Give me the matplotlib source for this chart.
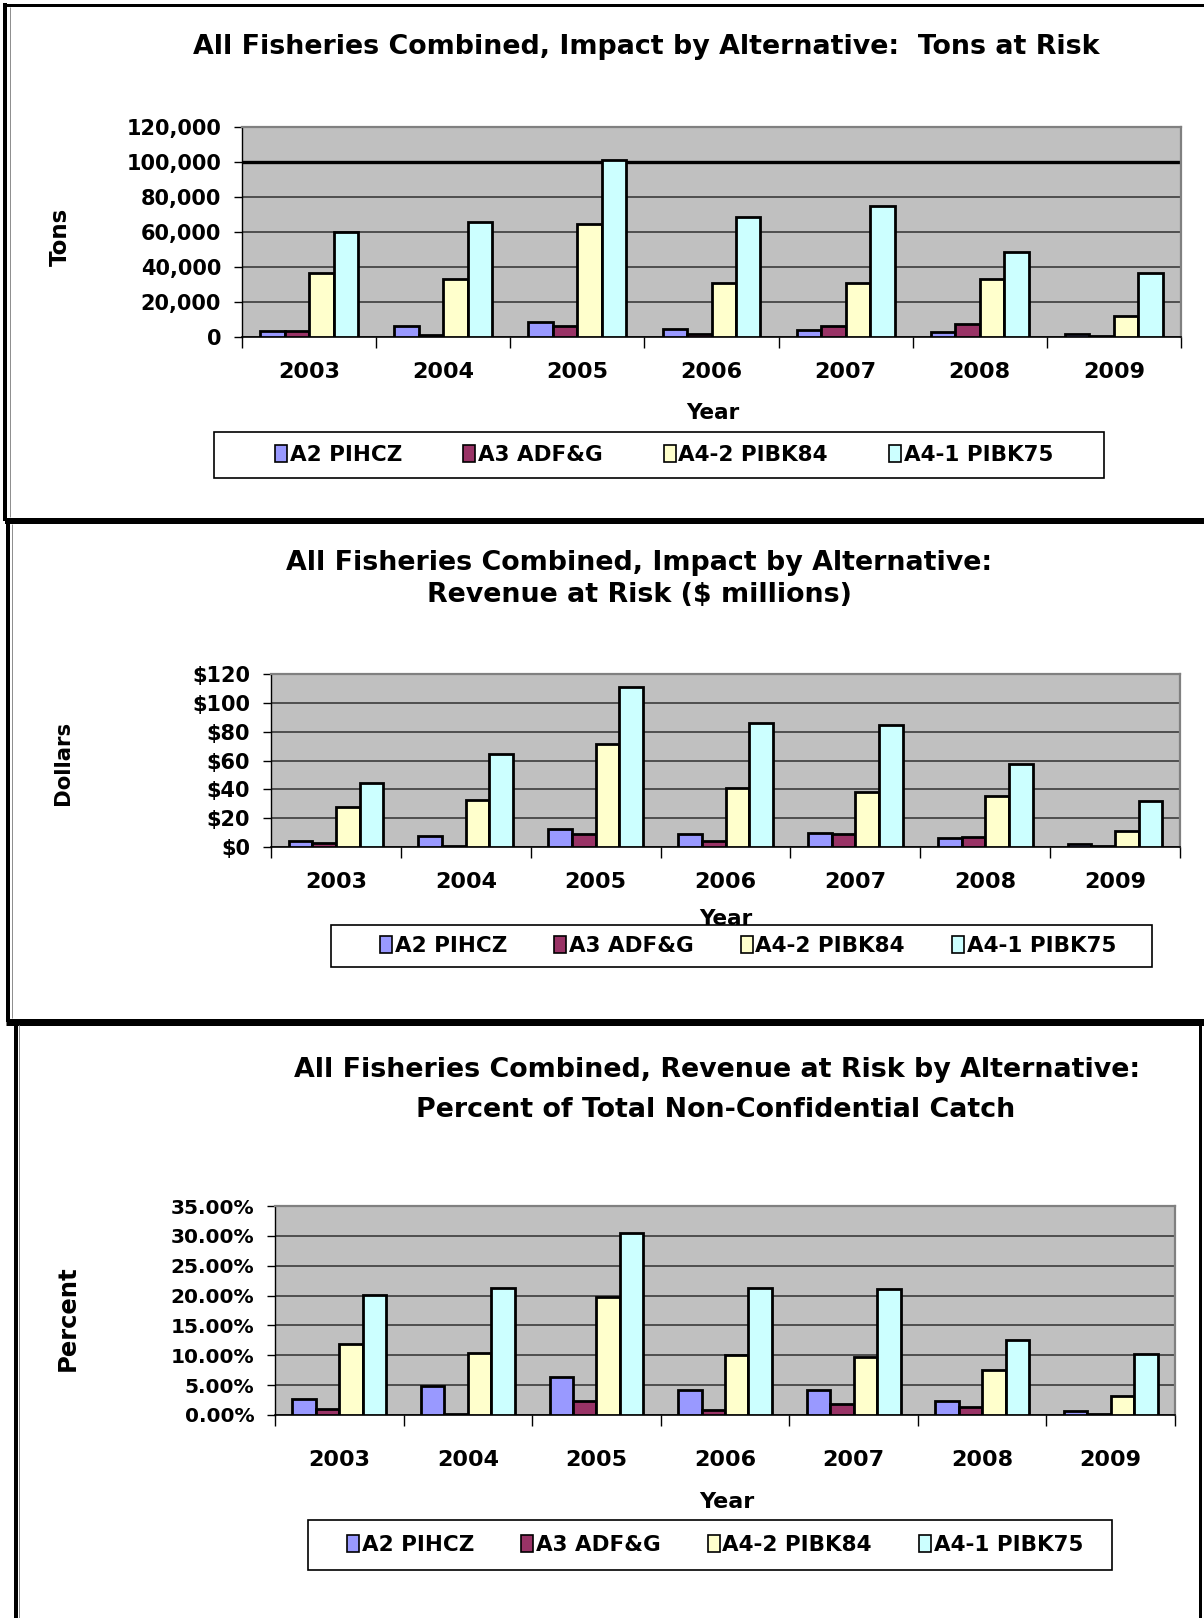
import numpy as np
import matplotlib.pyplot as plt
from matplotlib.ticker import FuncFormatter
from matplotlib.lines import Line2D
from matplotlib.patches import Rectangle

# canvas size in pixels (dpi 100)
W, H = 1204, 1618

years = ['2003', '2004', '2005', '2006', '2007', '2008', '2009']
series = ['A2 PIHCZ', 'A3 ADF&G', 'A4-2 PIBK84', 'A4-1 PIBK75']
colors = ['#9999ff', '#993366', '#ffffcc', '#ccffff']

# tons at risk
tons_a2 = [3500, 6100, 8300, 4800, 4200, 3100, 1900]
tons_a3 = [3500, 1000, 6300, 2000, 6100, 7700, 500]
tons_a42 = [36700, 33200, 64600, 30600, 30600, 33200, 12000]
tons_a41 = [60200, 65700, 101200, 68400, 74900, 48500, 36300]

# revenue at risk, $ millions
rev_a2 = [3.9, 7.8, 12.5, 9.2, 9.4, 6.2, 1.8]
rev_a3 = [2.8, 1.0, 8.7, 3.9, 9.0, 7.1, 0.6]
rev_a42 = [27.4, 32.8, 71.5, 40.6, 38.0, 35.3, 10.8]
rev_a41 = [44.3, 64.4, 111.2, 85.9, 84.9, 57.5, 31.9]

# share of total non-confidential catch
pct_a2 = [0.027, 0.048, 0.064, 0.042, 0.042, 0.023, 0.007]
pct_a3 = [0.0105, 0.002, 0.023, 0.008, 0.018, 0.013, 0.0015]
pct_a42 = [0.119, 0.1045, 0.198, 0.101, 0.097, 0.076, 0.032]
pct_a41 = [0.201, 0.213, 0.305, 0.213, 0.211, 0.126, 0.102]

plt.rcParams['font.family'] = 'DejaVu Sans'
fig = plt.figure(figsize=(W / 100, H / 100), dpi=100)


def fx(x):
    return x / W


def fy(y):
    return 1 - y / H


def panel(box, data, ymax, ystep, fmt, tick_fs=15, year_fs=16, year_pad=18):
    x0, y0, x1, y1 = box
    ax = fig.add_axes([fx(x0), fy(y1), (x1 - x0) / W, (y1 - y0) / H])
    ax.set_facecolor('#c0c0c0')
    x = np.arange(len(years))
    w = 0.1825
    bars = []
    for i, (vals, col) in enumerate(zip(data, colors)):
        bars.append(ax.bar(x + (i - 1.5) * w, vals, w, color=col,
                           edgecolor='black', linewidth=2.0, zorder=3))
    ax.set_xlim(-0.5, len(years) - 0.5)
    ax.set_ylim(0, ymax)
    ax.set_yticks(np.arange(0, ymax + ystep / 2, ystep))
    ax.yaxis.set_major_formatter(FuncFormatter(fmt))
    ax.set_axisbelow(True)
    ax.grid(axis='y', color='#303030', linewidth=1.1)

    # category boundaries get the tick marks, years sit in between
    ax.set_xticks(np.arange(-0.5, len(years), 1))
    ax.set_xticklabels([])
    ax.set_xticks(x, minor=True)
    ax.set_xticklabels(years, minor=True)
    ax.tick_params(axis='x', which='major', length=8, width=1, color='black')
    ax.tick_params(axis='x', which='minor', length=0, pad=year_pad,
                   labelsize=year_fs)
    ax.tick_params(axis='y', length=6, width=1, pad=9, labelsize=tick_fs)
    for lab in ax.get_xticklabels(minor=True) + ax.get_yticklabels():
        lab.set_fontweight('bold')

    ax.spines['left'].set_color('black')
    ax.spines['bottom'].set_color('black')
    ax.spines['left'].set_linewidth(1.0)
    ax.spines['bottom'].set_linewidth(1.2)
    for s in ('top', 'right'):
        ax.spines[s].set_color('#808080')
        ax.spines[s].set_linewidth(1.6)
    return ax, bars


def legend(bars, box, cx, spacing=2.75, fs=15.5):
    x0, y0, x1, y1 = box
    # white box first, so it sits over anything drawn underneath
    fig.add_artist(Rectangle((fx(x0), fy(y1)), (x1 - x0) / W, (y1 - y0) / H,
                             transform=fig.transFigure, facecolor='white',
                             edgecolor='black', linewidth=1.2, zorder=4))
    leg = fig.legend([b[0] for b in bars], series, loc='center', ncol=4,
                     bbox_to_anchor=(fx(cx), fy((y0 + y1) / 2)),
                     borderaxespad=0, frameon=False,
                     handlelength=0.55, handleheight=0.85, handletextpad=0.12,
                     columnspacing=spacing, prop={'weight': 'bold', 'size': fs})
    for h in leg.legend_handles:
        h.set_linewidth(1.2)
    return leg


def text(x, y, s, size, rot=0, weight='bold'):
    fig.text(fx(x), fy(y), s, ha='center', va='center', fontsize=size,
             fontweight=weight, rotation=rot)


# --- tons at risk ---
ax1, b1 = panel((242, 127, 1181, 337), [tons_a2, tons_a3, tons_a42, tons_a41],
                120000, 20000, lambda v, p: f'{v:,.0f}')
ax1.axhline(100000, color='black', linewidth=2.4, zorder=1)
text(646, 47, 'All Fisheries Combined, Impact by Alternative:  Tons at Risk', 19.4)
text(60, 237, 'Tons', 16.5, rot=90)
text(713, 413, 'Year', 15.5)
legend(b1, (214, 432, 1104, 478), 664, spacing=2.85)

# --- revenue at risk ---
ax2, b2 = panel((271, 674, 1180, 847), [rev_a2, rev_a3, rev_a42, rev_a41],
                120, 20, lambda v, p: f'${v:.0f}')
text(639, 563, 'All Fisheries Combined, Impact by Alternative:', 19.4)
text(639, 595, 'Revenue at Risk ($ millions)', 19.4)
text(63, 763, 'Dollars', 15.3, rot=90)
text(726, 919, 'Year', 15.5)
legend(b2, (331, 925, 1152, 967), 748, spacing=2.2)

# --- percent of catch ---
ax3, b3 = panel((275, 1206, 1175, 1415), [pct_a2, pct_a3, pct_a42, pct_a41],
                0.35, 0.05, lambda v, p: f'{v:.2%}', tick_fs=14.5, year_fs=16,
                year_pad=25)
text(717, 1070, 'All Fisheries Combined, Revenue at Risk by Alternative:', 19.4)
text(716, 1110, 'Percent of Total Non-Confidential Catch', 19.4)
text(68, 1318, 'Percent', 17.5, rot=90)
text(727, 1502, 'Year', 16)
legend(b3, (308, 1520, 1112, 1570), 715, spacing=2.2)


# borders between the stacked charts
def rule(xs, ys, lw_px, color='black'):
    fig.add_artist(Line2D([fx(v) for v in xs], [fy(v) for v in ys],
                          color=color, linewidth=lw_px * 0.72,
                          solid_capstyle='butt'))


rule([3, 1204], [4.5, 4.5], 3)
rule([5, 5], [3, 521], 4)
rule([10, 10], [7, 517], 1, '#909090')
rule([5, 1204], [520.5, 520.5], 6)
rule([7.5, 7.5], [520, 1022], 4)
rule([12, 12], [524, 1018], 1, '#909090')
rule([6, 1204], [1021.5, 1021.5], 7)
rule([15.5, 15.5], [1021, 1618], 4)
rule([19, 19], [1025, 1618], 1, '#909090')
rule([1200, 1200], [1021, 1618], 3)

fig.savefig('out.png', dpi=100)
